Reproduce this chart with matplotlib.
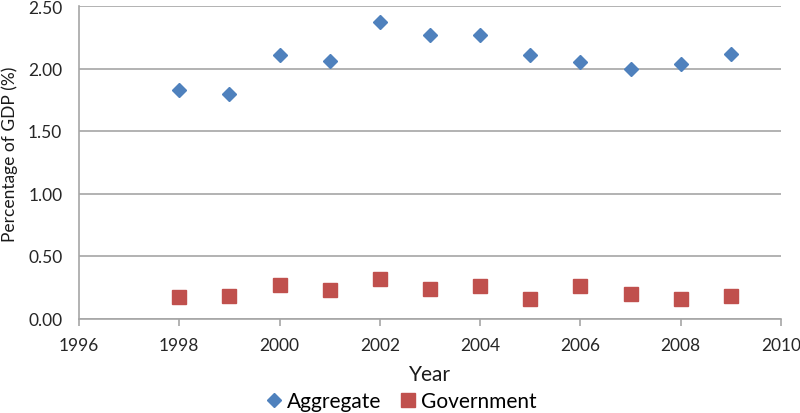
import matplotlib.pyplot as plt
from matplotlib.ticker import FormatStrFormatter

plt.rcParams['font.family'] = ['Lato', 'DejaVu Sans']

years = [1998, 1999, 2000, 2001, 2002, 2003, 2004, 2005, 2006, 2007, 2008, 2009]
aggregate = [1.83, 1.80, 2.11, 2.06, 2.37, 2.27, 2.27, 2.11, 2.05, 2.00, 2.04, 2.12]
government = [0.17, 0.18, 0.27, 0.23, 0.32, 0.24, 0.26, 0.16, 0.26, 0.20, 0.16, 0.18]

blue = '#4F81BD'
red = '#C0504D'
grid_grey = '#A6A6A6'

fig = plt.figure(figsize=(8, 4.14), dpi=100)
ax = fig.add_axes([79 / 800, 1 - 319.5 / 414, (781 - 79) / 800, (319.5 - 7) / 414])

ax.plot(years, aggregate, linestyle='none', marker='D', markersize=7.2,
        color=blue, label='Aggregate', clip_on=False, zorder=3)
ax.plot(years, government, linestyle='none', marker='s', markersize=10.5,
        color=red, label='Government', clip_on=False, zorder=3)

ax.set_xlim(1996, 2010)
ax.set_ylim(0, 2.5)
ax.set_xticks(range(1996, 2011, 2))
ax.set_yticks([0, 0.5, 1.0, 1.5, 2.0, 2.5])
ax.yaxis.set_major_formatter(FormatStrFormatter('%.2f'))

ax.grid(axis='y', color=grid_grey, linewidth=1.2)
ax.set_axisbelow(True)
for side in ['top', 'right']:
    ax.spines[side].set_visible(False)
for side in ['left', 'bottom']:
    ax.spines[side].set_color(grid_grey)
    ax.spines[side].set_linewidth(1.2)

ax.tick_params(axis='x', direction='out', length=5, color=grid_grey, width=1.2,
               labelsize=12.5, pad=8, labelcolor='#262626')
ax.tick_params(axis='y', length=0, labelsize=12.5, pad=12, labelcolor='#262626')

ax.set_xlabel('Year', fontsize=15, labelpad=8, color='#1a1a1a')
ax.set_ylabel('Percentage of GDP (%)', fontsize=12.5, color='#1a1a1a')
# label sits a bit above the axis middle in the original
ax.yaxis.set_label_coords(-0.087, 0.53)

fig.legend(loc='center', bbox_to_anchor=(0.5, 12 / 414), ncol=2, frameon=False,
           fontsize=15, handletextpad=0.1, columnspacing=0.8, handlelength=1.0,
           borderpad=0, borderaxespad=0)

fig.savefig('out.png', dpi=100)
